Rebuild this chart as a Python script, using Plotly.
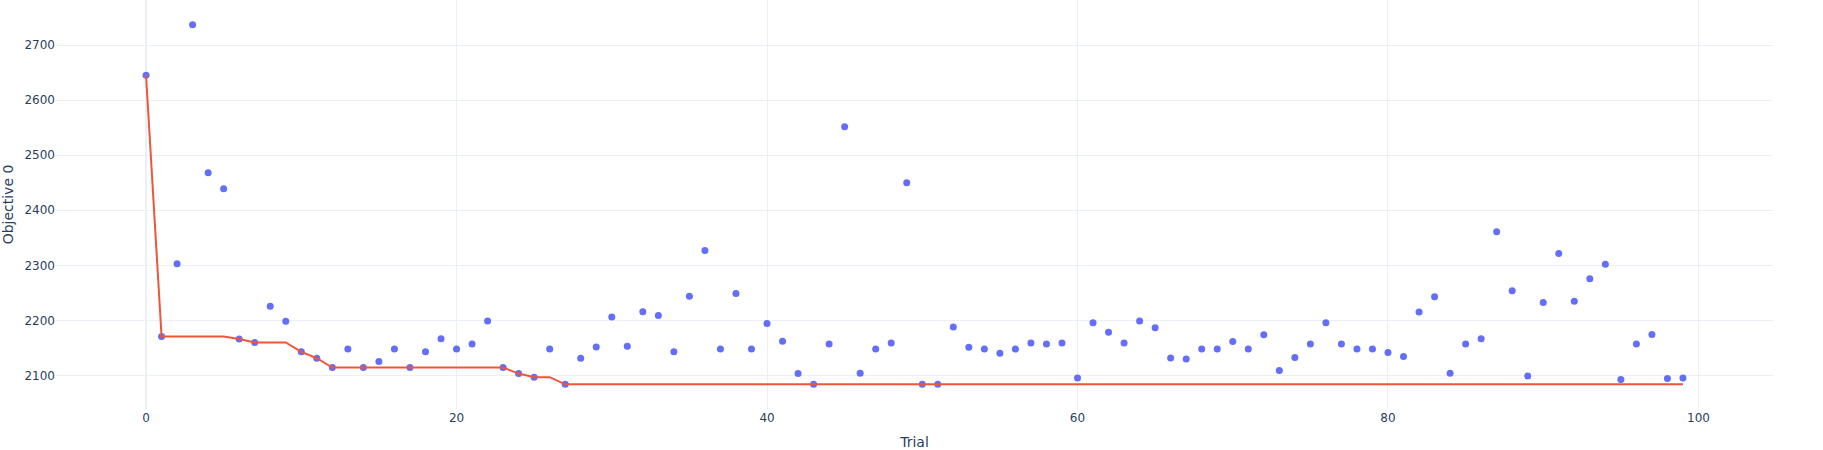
import numpy as np
import plotly.graph_objects as go

# valeurs de l'objectif par essai
trials = list(range(100))
objective = [
    2645, 2171, 2303, 2737, 2468, 2439, 2166.5, 2160, 2226, 2198.6,
    2143, 2131.4, 2114.5, 2148.3, 2114.5, 2125.4, 2148, 2114.5, 2143, 2167,
    2148, 2157.5, 2199, 2114.5, 2103.6, 2097, 2148, 2084, 2131.4, 2152,
    2206.5, 2153, 2216, 2209, 2143, 2244, 2327, 2148, 2249, 2148,
    2194.5, 2162.3, 2103.6, 2084, 2157.5, 2551.6, 2104, 2148, 2159.3, 2450,
    2084, 2084, 2188, 2151.4, 2148, 2140.5, 2148, 2159, 2157.5, 2159,
    2095.7, 2196, 2178.7, 2159, 2199, 2187, 2132, 2130, 2148, 2148,
    2162, 2148, 2174, 2109, 2133, 2157.5, 2196, 2157.5, 2148, 2148,
    2142, 2134.5, 2215.5, 2243, 2104, 2157.5, 2167, 2361, 2254, 2099,
    2232.6, 2321.6, 2235, 2275.5, 2302, 2093, 2157.5, 2174.5, 2094.5, 2095.7,
]

# meilleure valeur cumulée (minimisation)
best = np.minimum.accumulate(objective)

fig = go.Figure()
fig.add_trace(go.Scatter(x=trials, y=objective, mode="markers", name="Objective Value",
                         marker=dict(color="#636efa", size=7)))
fig.add_trace(go.Scatter(x=trials, y=best, mode="lines", name="Best Value",
                         line=dict(color="#EF553B", width=2)))

fig.update_layout(
    template="plotly_white",
    width=1823, height=450,
    showlegend=False,
    font=dict(family="DejaVu Sans"),
    margin=dict(l=56, r=50, t=0, b=41),
    xaxis=dict(title=dict(text="Trial"), range=[-5.8, 104.8]),
    yaxis=dict(title=dict(text="Objective 0"), range=[2039.3, 2781.7]),
)
# pas de marge autour du graphique dans la page, pas de barre d'outils
fig.write_html("out.html", config={"displayModeBar": False},
               post_script="document.body.style.margin='0';")
